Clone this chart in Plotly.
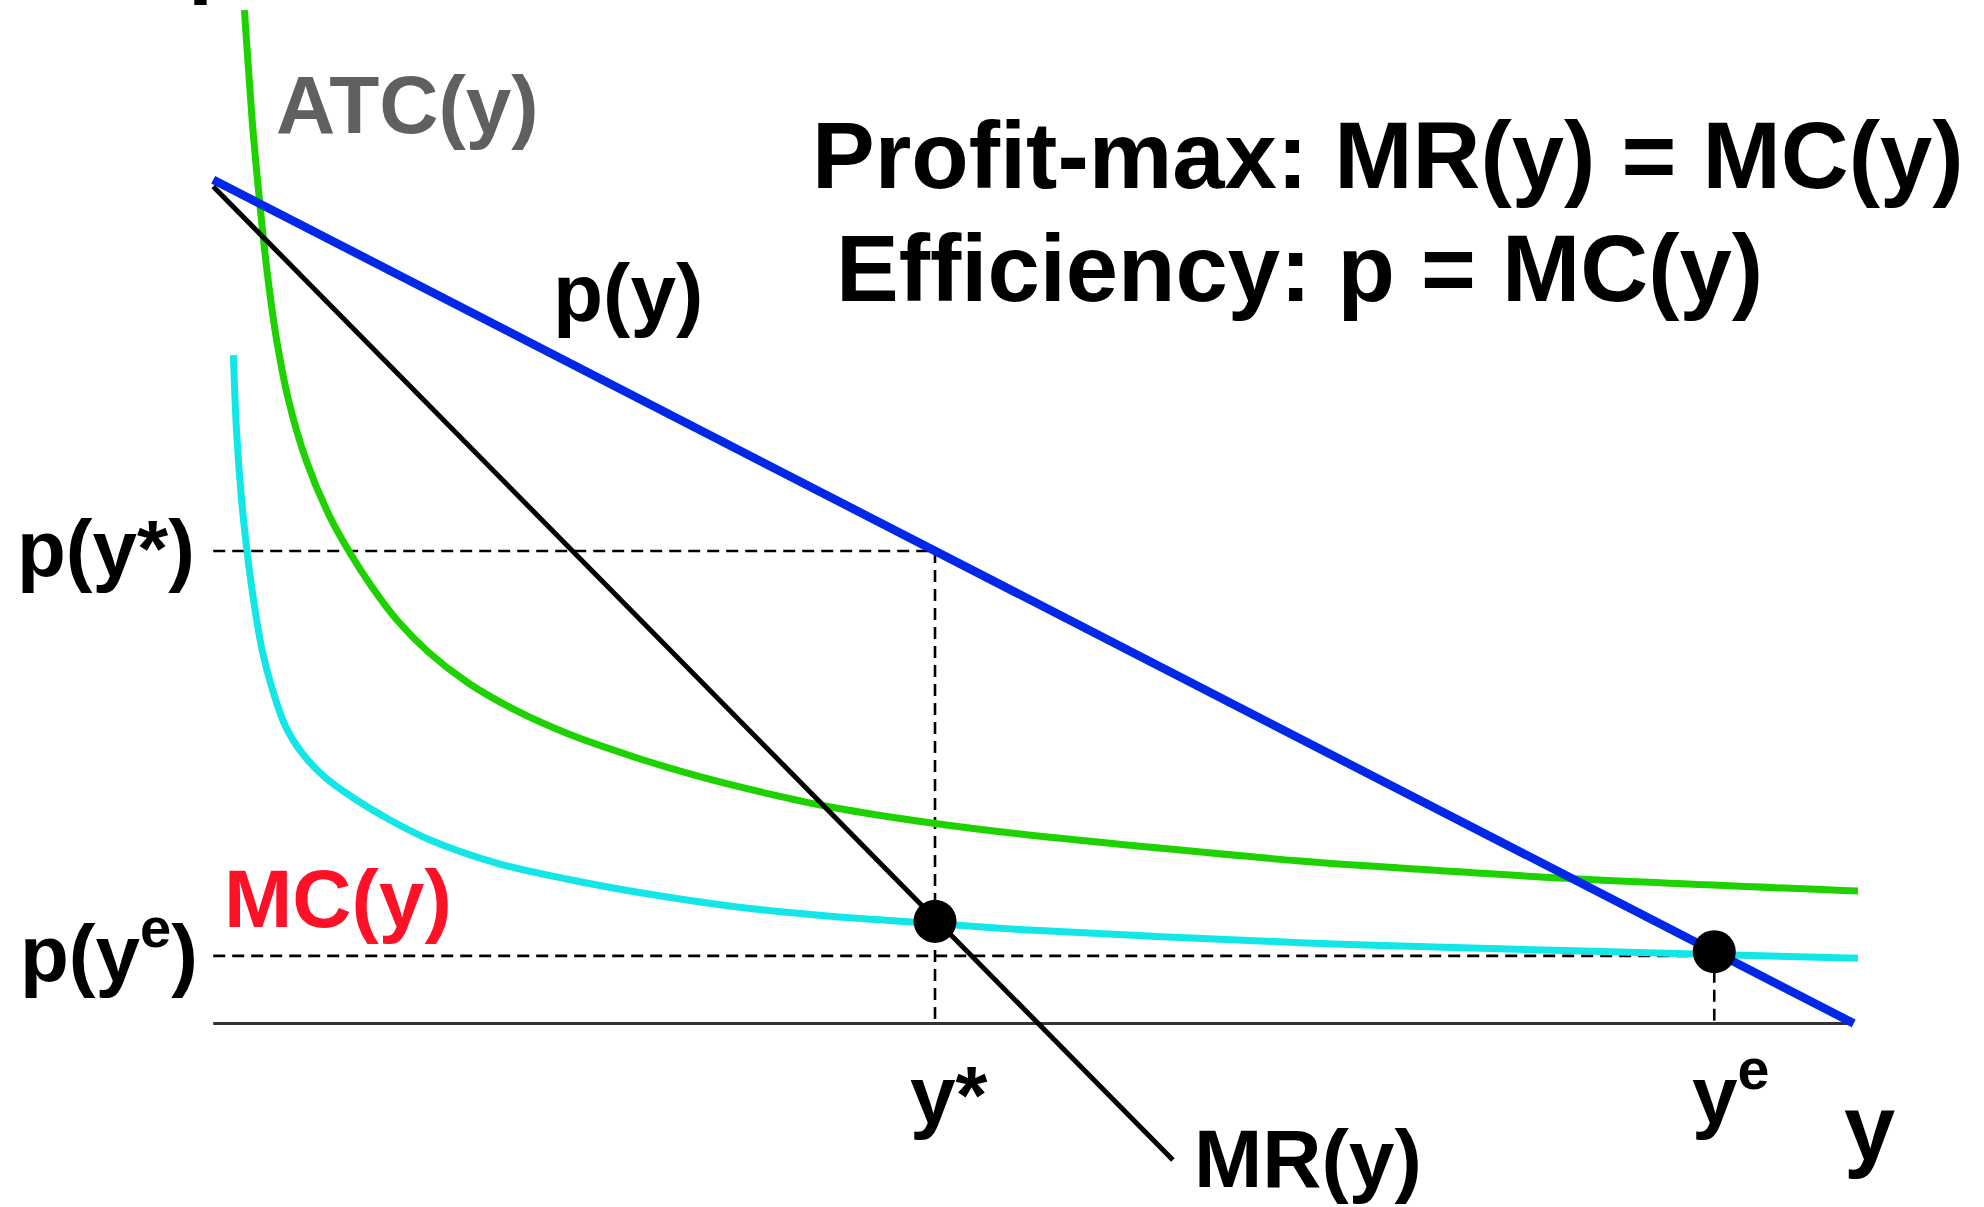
import plotly.graph_objects as go

# ---- values (output y on x, price on y) ----
demand_y = [0.0, 10.0]
demand_p = [10.0, 0.0]

mr_y = [0.0, 5.85]
mr_p = [9.92, -1.62]

mc_y = [0.123, 0.143, 0.173, 0.204, 0.246, 0.298, 0.362, 0.441, 0.541, 0.682, 0.864, 1.078,
        1.322, 1.748, 2.155, 2.561, 3.170, 3.780, 4.400, 4.918, 6.625, 7.234, 9.142, 10.026]
mc_p = [7.922, 6.994, 6.204, 5.631, 5.018, 4.426, 3.952, 3.519, 3.205, 2.915, 2.660, 2.411,
        2.174, 1.889, 1.712, 1.563, 1.386, 1.267, 1.184, 1.113, 0.957, 0.917, 0.817, 0.772]

atc_y = [0.190, 0.214, 0.244, 0.282, 0.325, 0.380, 0.459, 0.566, 0.706, 0.834, 0.968, 1.120,
         1.311, 1.555, 1.840, 2.155, 2.561, 2.967, 3.374, 3.780, 4.390, 4.918, 6.625, 7.234,
         8.274, 10.026]
atc_p = [12.011, 11.339, 10.550, 9.759, 8.969, 8.179, 7.389, 6.678, 6.026, 5.575, 5.172, 4.781,
         4.402, 4.035, 3.715, 3.438, 3.161, 2.924, 2.727, 2.559, 2.372, 2.245, 1.925, 1.842,
         1.717, 1.569]

y_star, p_star, mc_star = 4.40, 5.60, 1.21
y_e, p_e, p_e_line = 9.15, 0.85, 0.80
axis_end = 9.96

W, H = 1984, 1207
X0_PX, X_UNIT = 213.2, 164.05
Y0_PX, Y_UNIT = 1023.4, 84.37
FONT = "Liberation Sans, Arial, Helvetica, sans-serif"

fig = go.Figure()

# axis line
fig.add_trace(go.Scatter(x=[0, axis_end], y=[0, 0], mode="lines",
                         line=dict(color="#333333", width=3), hoverinfo="skip"))

# dashed guides
fig.add_trace(go.Scatter(
    x=[0, y_star, None, y_star, y_star, None, 0, y_e, None, y_e, y_e],
    y=[p_star, p_star, None, p_star, 0, None, p_e_line, p_e_line, None, p_e, 0],
    mode="lines", line=dict(color="black", width=2.6, dash="12px,7px"),
    hoverinfo="skip"))

# curves
fig.add_trace(go.Scatter(x=mc_y, y=mc_p, mode="lines", line=dict(color="#12e6e6", width=7,
                         shape="spline", smoothing=1.0), hoverinfo="skip"))
fig.add_trace(go.Scatter(x=atc_y, y=atc_p, mode="lines", line=dict(color="#1ed200", width=7,
                         shape="spline", smoothing=1.0), hoverinfo="skip"))
fig.add_trace(go.Scatter(x=demand_y, y=demand_p, mode="lines",
                         line=dict(color="#0028e6", width=8.5), hoverinfo="skip"))
fig.add_trace(go.Scatter(x=mr_y, y=mr_p, mode="lines",
                         line=dict(color="black", width=5), hoverinfo="skip"))

# equilibrium points
fig.add_trace(go.Scatter(x=[y_star, y_e], y=[mc_star, p_e], mode="markers",
                         marker=dict(color="black", size=43), hoverinfo="skip"))


def label(text, x_px, base_px, size, color="black"):
    # x_px = left edge of text, base_px = baseline, both in page pixels
    fig.add_annotation(text=text, xref="paper", yref="paper",
                       x=x_px / W, y=1 - (base_px + 0.212 * size) / H,
                       xanchor="left", yanchor="bottom", showarrow=False,
                       borderpad=0, borderwidth=0,
                       font=dict(family=FONT, size=size, color=color, weight="bold"))


label("p", 188, -14, 90)
label("ATC(y)", 276, 133, 82, "#606060")
label("p(y)", 553, 321, 82)
label("Profit-max: MR(y) = MC(y)", 812, 188, 94)
label("Efficiency: p = MC(y)", 836, 301, 94)
label("p(y*)", 17, 576, 80)
label("p(y<sup>e</sup>)", 20, 981, 80)
label("MC(y)", 224, 927, 82, "#fe1126")
label("y*", 910, 1123, 82)
label("MR(y)", 1194, 1187, 82)
label("y<sup>e</sup>", 1692, 1123, 82)
label("y", 1844, 1159, 92)

fig.update_layout(
    width=W, height=H,
    margin=dict(l=0, r=0, t=0, b=0),
    paper_bgcolor="white", plot_bgcolor="white",
    showlegend=False,
    xaxis=dict(range=[-X0_PX / X_UNIT, (W - X0_PX) / X_UNIT], visible=False, fixedrange=True),
    yaxis=dict(range=[(Y0_PX - H) / Y_UNIT, Y0_PX / Y_UNIT], visible=False, fixedrange=True),
)

fig.write_html("out.html", config={"displayModeBar": False},
               post_script="document.body.style.margin='0px';")
